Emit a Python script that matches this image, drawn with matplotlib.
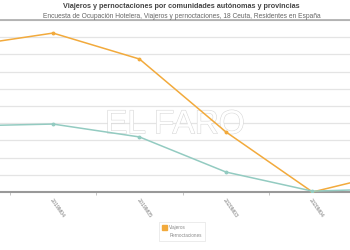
import matplotlib.pyplot as plt
import matplotlib.patheffects as pe
from matplotlib.patches import Rectangle

categories = ["2019M03", "2019M04", "2019M05", "2020M03", "2020M04", "2020M05"]
viajeros = [8490, 9240, 7730, 3490, 0, 1220]
pernoctaciones = [3840, 3950, 3200, 1160, 50, 200]
tick_labels = ["", "2019M04", "2019M05", "2020M03", "2020M04", ""]

plt.rcParams["font.family"] = ["Liberation Sans", "DejaVu Sans"]

fig = plt.figure(figsize=(3.5, 2.5), dpi=100)
ax = fig.add_axes([0, 0.232, 1, 0.688])

x = list(range(len(categories)))
ax.plot(x, viajeros, color="#F2AA3C", lw=1.1, marker="o", ms=1.8, label="Viajeros", zorder=3)
ax.plot(x, pernoctaciones, color="#93CBC1", lw=1.1, marker="o", ms=1.8, label="Pernoctaciones", zorder=3)

ax.set_yticks(range(0, 10001, 1000))
ax.yaxis.grid(True, color="#e4e4e4", lw=0.9)
ax.set_axisbelow(True)
ax.tick_params(axis="y", left=False, labelleft=False)

ax.set_xticks(x)
ax.set_xticklabels(tick_labels, rotation=-55, ha="left", va="top",
                   rotation_mode="anchor", fontsize=3.8, color="#777777")
ax.tick_params(axis="x", length=0, pad=4)
ax.set_xticks([i + 0.5 for i in range(len(categories) - 1)], minor=True)
ax.tick_params(axis="x", which="minor", length=2, color="#bbbbbb", width=0.6)

ax.set_xlim(0.387, 4.434)
ax.set_ylim(0, 10000)

for s in ["left", "right"]:
    ax.spines[s].set_visible(False)
ax.spines["bottom"].set_color("#999999")
ax.spines["bottom"].set_linewidth(1.5)
ax.spines["top"].set_color("#aaaaaa")
ax.spines["top"].set_linewidth(1.2)

# watermark
ax.text(0.5, 0.39, "EL FARO", transform=ax.transAxes, ha="center", va="center",
        fontsize=24, color="white", zorder=1,
        path_effects=[pe.Stroke(linewidth=0.8, foreground="#d8d8d8"), pe.Normal()])

fig.text(0.517, 0.972, "Viajeros y pernoctaciones por comunidades autónomas y provincias",
         ha="center", va="center", fontsize=5.2, fontweight="bold", color="#444444")
fig.text(0.52, 0.935, "Encuesta de Ocupación Hotelera, Viajeros y pernoctaciones, 18 Ceuta, Residentes en España",
         ha="center", va="center", fontsize=4.8, color="#666666")

leg = fig.legend(handles=ax.get_lines(), loc="center", bbox_to_anchor=(0.52, 0.074),
                 fontsize=3.3, frameon=True, fancybox=False, handlelength=0.8,
                 handleheight=0.8, handletextpad=0.8, borderpad=0.6, labelspacing=0.6)
leg.get_frame().set_edgecolor("#dddddd")
leg.get_frame().set_linewidth(0.5)
for h in leg.legend_handles:
    h.set_visible(False)
for t in leg.get_texts():
    t.set_color("#888888")
leg_sq = Rectangle((0.463, 0.082), 0.014, 0.02, transform=fig.transFigure,
                   color="#F2AA3C", zorder=10)
fig.add_artist(leg_sq)

fig.savefig("out.png", dpi=100)
